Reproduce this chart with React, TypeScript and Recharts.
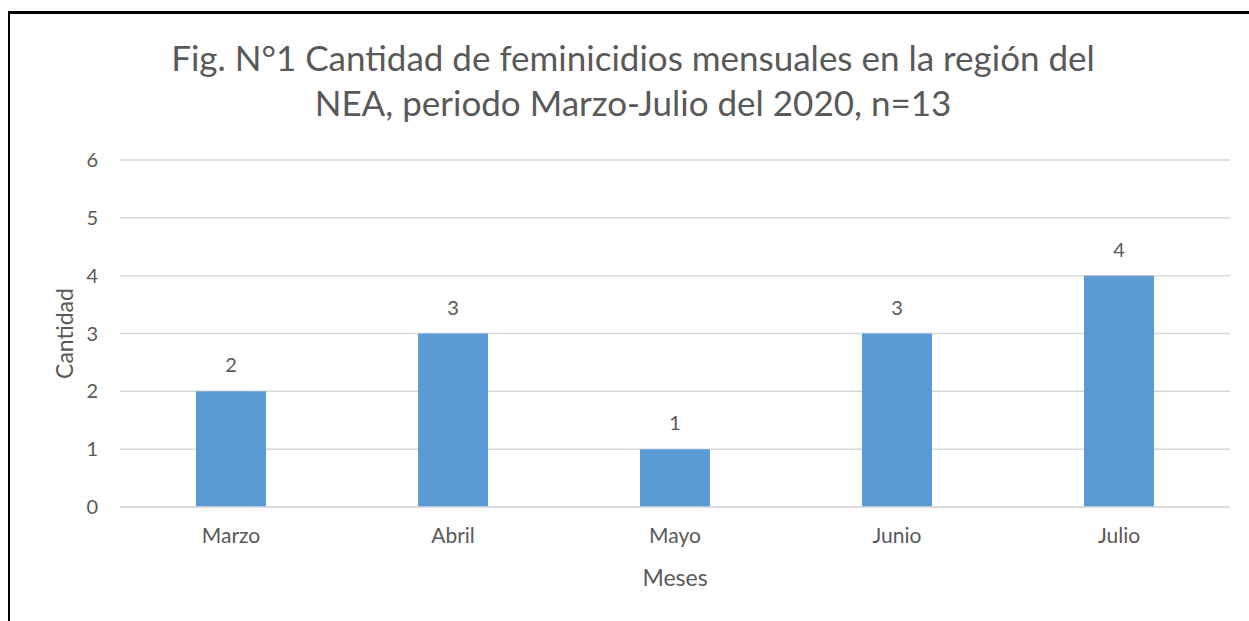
import React from 'react';
import { BarChart, Bar, XAxis, YAxis, CartesianGrid, LabelList } from 'recharts';

const months = ['Marzo', 'Abril', 'Mayo', 'Junio', 'Julio'];
const counts = [2, 3, 1, 3, 4];
const yTicks = [0, 1, 2, 3, 4, 5, 6];
const titleLines = [
  'Fig. N°1 Cantidad de feminicidios mensuales en la región del',
  'NEA, periodo Marzo-Julio del 2020, n=13',
];

const data = months.map((m, i) => ({ mes: m, cantidad: counts[i] }));

const FONT = 'Lato, "Open Sans", sans-serif';
const GRAY = '#595959';

export default function App() {
  return (
    <div style={{ position: 'fixed', left: 0, top: 0, width: 1249, height: 621, overflow: 'hidden', background: '#fff', fontFamily: FONT }}>
      <div style={{ position: 'absolute', left: 8, top: 11, right: -10, bottom: -10, borderLeft: '2px solid #000', borderTop: '3px solid #000' }} />
      <div style={{ position: 'absolute', left: 0, width: 1266, top: 35, textAlign: 'center', color: GRAY, fontSize: 35, lineHeight: '45px' }}>
        {titleLines.map((t) => (
          <div key={t}>{t}</div>
        ))}
      </div>
      <div style={{ position: 'absolute', left: 0, top: 0 }}>
        <BarChart width={1249} height={621} data={data} margin={{ top: 160, right: 19, bottom: 33, left: 50 }}>
          <CartesianGrid vertical={false} stroke="#d9d9d9" strokeWidth={1.5} />
          <XAxis
            dataKey="mes"
            height={81}
            axisLine={{ stroke: '#d9d9d9', strokeWidth: 1.5 }}
            tickLine={false}
            tickMargin={15}
            tick={{ fill: GRAY, fontSize: 21, fontFamily: FONT }}
            label={{ value: 'Meses', position: 'insideBottom', offset: 2, fill: GRAY, fontSize: 23, fontFamily: FONT }}
          />
          <YAxis
            width={70}
            domain={[0, 6]}
            ticks={yTicks}
            axisLine={false}
            tickLine={false}
            tickMargin={16}
            tick={{ fill: GRAY, fontSize: 20, fontFamily: FONT }}
            label={{ value: 'Cantidad', angle: -90, position: 'insideLeft', offset: 15, fill: GRAY, fontSize: 23, fontFamily: FONT, style: { textAnchor: 'middle' } }}
          />
          <Bar dataKey="cantidad" fill="#5b9bd5" barSize={70} isAnimationActive={false}>
            <LabelList dataKey="cantidad" position="top" offset={19} fill={GRAY} fontSize={20} fontFamily={FONT} />
          </Bar>
        </BarChart>
      </div>
    </div>
  );
}
